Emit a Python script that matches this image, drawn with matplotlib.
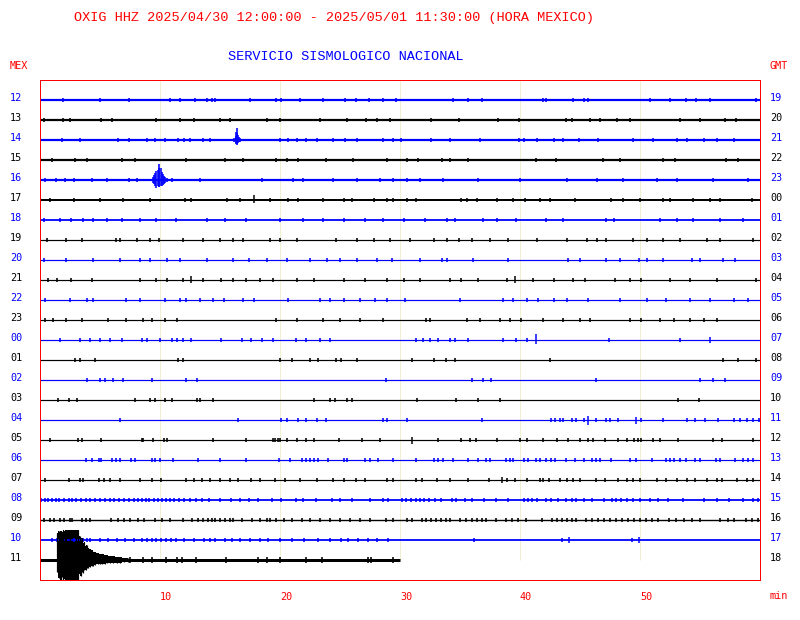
import matplotlib.pyplot as plt
import numpy as np

# hour labels of each helicorder line (local Mexico time on the left, GMT on the right)
mex_hours = ['12', '13', '14', '15', '16', '17', '18', '19', '20', '21', '22', '23',
             '00', '01', '02', '03', '04', '05', '06', '07', '08', '09', '10', '11']
gmt_hours = ['19', '20', '21', '22', '23', '00', '01', '02', '03', '04', '05', '06',
             '07', '08', '09', '10', '11', '12', '13', '14', '15', '16', '17', '18']
minute_ticks = [10, 20, 30, 40, 50]
# minutes recorded on each line (last hour is still running)
trace_end = [60] * 23 + [30]
# background noise level of each line, in pixels
noise_px = [2.2, 2.2, 2.2, 2.2, 2.2, 2.0, 1.8, 1.2, 1.2, 1.2, 1.2, 1.2,
            1.2, 1.2, 1.2, 1.2, 1.2, 1.2, 1.2, 1.2, 1.8, 1.4, 1.8, 3.0]

# small wiggles on every line (minute of each)
t12 = [1.9, 5.0, 7.4, 10.8, 11.7, 12.9, 13.9, 14.3, 14.6, 17.5, 19.7, 20.1, 21.7, 23.6, 25.4, 26.3, 27.4,
       28.6, 29.7, 34.4, 35.7, 36.8, 41.9, 42.2, 44.4, 45.3, 45.7, 50.8, 52.5, 53.8, 54.7, 55.8, 59.7]
t13 = [0.3, 1.9, 2.5, 5.1, 6.0, 9.7, 11.7, 12.8, 15.0, 15.8, 18.9, 20.0, 23.3, 25.6, 27.2, 28.1, 29.2,
       32.6, 34.9, 38.2, 39.9, 43.8, 44.3, 45.8, 46.7, 48.1, 49.2, 53.3, 55.0, 57.1, 58.0]
t14 = [1.8, 3.3, 6.5, 7.4, 8.9, 9.6, 10.4, 11.5, 12.0, 12.5, 13.6, 14.2, 20.0, 20.7, 21.4, 22.2, 23.1,
       24.4, 25.4, 26.4, 28.6, 29.4, 30.1, 32.6, 34.2, 36.7, 39.9, 40.3, 41.4, 42.8, 43.6, 44.9, 46.5,
       49.4, 51.1, 53.1, 53.9, 55.3, 56.4, 57.8]
t15 = [1.0, 2.9, 3.9, 6.8, 7.9, 12.2, 15.4, 16.9, 19.7, 20.6, 21.5, 23.8, 26.1, 28.9, 30.6, 31.5, 33.5,
       34.2, 35.7, 41.3, 43.0, 46.9, 48.3, 51.9, 52.9, 57.2, 58.2]
t16 = [0.4, 1.3, 2.1, 2.8, 4.3, 5.6, 7.4, 8.1, 11.0, 13.3, 18.5, 21.1, 21.9, 24.4, 26.4, 28.3, 29.4,
       30.6, 31.7, 33.6, 36.5, 40.0, 43.9, 46.4, 48.6, 51.4, 53.1, 56.1, 59.0]
t17 = [0.8, 2.8, 5.0, 6.9, 9.2, 12.1, 12.6, 15.6, 16.7, 19.2, 20.7, 21.5, 23.6, 25.3, 26.0, 27.8, 28.9,
       29.4, 30.6, 31.3, 35.1, 35.6, 36.4, 38.1, 39.4, 40.4, 41.7, 42.5, 44.6, 47.6, 48.6, 50.0, 51.9,
       52.5, 54.4, 55.8, 56.7, 59.3]
t18 = [0.3, 1.7, 2.6, 3.6, 4.4, 5.6, 6.8, 8.3, 9.7, 11.3, 13.9, 15.4, 17.2, 20.0, 21.9, 23.6, 25.3,
       27.1, 28.6, 30.3, 32.1, 33.9, 34.6, 36.9, 38.1, 39.7, 42.2, 43.6, 47.2, 47.8, 51.7, 53.1, 54.4,
       56.7, 58.6]
t19 = [0.6, 2.2, 3.5, 6.3, 6.7, 8.1, 9.2, 9.9, 11.9, 13.6, 15.0, 16.1, 16.9, 19.2, 20.0, 21.4, 24.7,
       26.4, 27.8, 29.2, 30.8, 32.8, 33.9, 34.9, 36.0, 37.5, 39.0, 41.4, 43.9, 45.6, 46.4, 47.2, 49.4,
       50.6, 51.9, 53.3, 55.6, 56.7, 59.4]
t20 = [0.3, 2.2, 4.4, 6.7, 8.3, 9.2, 10.6, 11.7, 13.9, 16.1, 17.4, 18.9, 20.6, 22.5, 23.9, 25.0, 26.4,
       28.1, 29.3, 31.7, 33.5, 33.9, 36.1, 39.0, 44.0, 45.0, 47.2, 48.3, 49.9, 50.6, 51.9, 54.3, 55.0,
       56.9, 57.9]
t21 = [0.7, 1.4, 2.6, 4.3, 8.3, 9.7, 10.6, 11.9, 13.6, 15.1, 16.1, 17.2, 18.3, 19.4, 21.4, 22.8, 25.3,
       27.1, 28.9, 30.3, 31.7, 34.2, 35.1, 36.5, 38.9, 41.1, 42.8, 44.4, 45.4, 47.9, 49.2, 50.1, 52.5,
       54.2, 56.4, 59.7]
t22 = [0.4, 2.5, 3.9, 4.4, 7.2, 8.3, 10.4, 11.7, 12.2, 13.3, 14.4, 15.3, 16.9, 17.8, 20.7, 23.3, 24.2,
       25.3, 26.7, 27.9, 28.9, 30.4, 35.0, 38.6, 39.4, 40.6, 41.5, 42.8, 43.9, 45.7, 48.3, 50.6, 52.2,
       54.2, 55.8, 57.8, 59.0]
t23 = [0.4, 1.1, 2.2, 3.5, 5.7, 7.2, 8.6, 9.3, 10.4, 11.4, 19.7, 21.4, 23.6, 25.0, 26.7, 28.6, 32.2,
       32.5, 35.6, 36.7, 38.3, 39.2, 40.1, 41.9, 43.6, 45.0, 45.8, 49.2, 50.1, 51.7, 52.8, 54.2, 55.3,
       56.4]
t00 = [1.7, 3.3, 4.2, 5.0, 5.8, 6.8, 8.5, 8.9, 10.0, 11.0, 11.4, 11.9, 12.6, 15.1, 16.8, 17.6, 18.5,
       19.4, 21.3, 22.2, 23.3, 24.2, 31.3, 31.9, 32.5, 33.2, 34.2, 34.6, 35.7, 38.6, 39.7, 40.6, 47.4,
       53.3]
t01 = [2.9, 3.3, 4.6, 11.5, 11.9, 20.0, 21.0, 22.5, 23.2, 24.7, 25.1, 26.4, 31.0, 32.8, 33.8, 34.6,
       42.5, 56.9, 58.2, 59.7]
t02 = [3.9, 5.0, 5.4, 6.1, 6.9, 9.3, 12.2, 13.1, 28.8, 36.0, 36.9, 37.6, 46.3, 55.0, 56.1, 57.1]
t03 = [1.5, 2.4, 3.1, 7.9, 9.2, 9.6, 10.4, 11.0, 13.1, 13.3, 14.4, 22.8, 24.2, 24.6, 25.6, 26.0, 31.4,
       34.7, 36.5, 38.3, 53.2, 54.9]
t04 = [6.7, 16.5, 20.1, 20.6, 21.5, 22.2, 23.1, 23.8, 28.6, 28.9, 30.6, 36.8, 42.6, 42.9, 43.3, 43.6,
       44.3, 44.7, 45.3, 46.3, 47.2, 47.5, 48.2, 50.1, 51.9, 53.9, 54.6, 55.4, 56.5, 57.8, 58.3, 58.9,
       59.4, 59.9]
t05 = [0.8, 3.2, 3.5, 5.1, 8.5, 8.6, 9.4, 10.3, 10.6, 14.4, 17.2, 19.4, 19.6, 19.8, 20.0, 20.6, 21.4,
       22.2, 22.8, 24.9, 26.8, 28.3, 33.2, 35.1, 35.8, 36.3, 38.1, 40.0, 40.6, 41.9, 43.1, 44.0, 45.0,
       45.7, 46.1, 47.1, 48.2, 48.9, 49.5, 49.8, 50.1, 51.1, 51.7, 53.2, 56.1, 56.8, 59.4]
t06 = [3.8, 4.3, 4.9, 5.1, 6.0, 6.3, 6.7, 7.6, 7.9, 9.3, 9.6, 10.0, 11.1, 13.2, 15.0, 17.2, 19.9, 20.8,
       21.8, 22.2, 22.5, 22.8, 23.2, 24.0, 25.3, 25.6, 27.1, 27.5, 28.2, 29.4, 31.3, 32.8, 33.2, 33.6,
       34.4, 35.7, 36.5, 37.2, 37.5, 38.8, 39.2, 39.4, 40.3, 40.7, 41.3, 41.7, 42.2, 42.6, 42.9, 43.8,
       44.6, 45.3, 46.0, 46.3, 46.7, 47.6, 49.2, 49.7, 51.0, 52.2, 52.5, 52.8, 53.3, 53.8, 54.6, 55.0,
       56.3, 56.7, 57.9, 58.6, 59.0, 59.4]
t07 = [0.4, 2.4, 3.3, 3.6, 4.9, 5.3, 5.8, 6.7, 8.3, 9.3, 10.1, 12.2, 12.8, 13.5, 14.2, 15.0, 15.8,
       16.5, 17.6, 18.3, 19.6, 20.4, 21.7, 23.1, 24.4, 25.3, 26.3, 27.1, 28.9, 29.4, 31.3, 31.8, 33.1,
       34.2, 35.7, 37.4, 38.9, 39.6, 40.6, 41.7, 41.9, 42.4, 43.3, 43.9, 44.4, 45.0, 46.3, 47.1, 48.2,
       48.9, 49.4, 50.0, 51.4, 52.2, 53.1, 53.9, 54.6, 55.6, 56.4, 56.8, 58.1, 58.9, 59.4]
t08 = [0.1, 0.4, 0.7, 1.0, 1.3, 1.6, 2.0, 2.4, 2.7, 3.0, 3.4, 3.8, 4.2, 4.6, 5.0, 5.4, 5.8, 6.2, 6.6,
       7.0, 7.4, 7.8, 8.2, 8.5, 8.8, 9.1, 9.5, 9.8, 10.2, 10.5, 10.8, 11.2, 11.6, 12.0, 12.5, 13.0, 13.5,
       14.1, 15.0, 15.9, 16.7, 17.4, 18.2, 19.3, 20.1, 21.3, 21.9, 23.0, 24.3, 25.0, 26.0, 27.5, 28.6,
       29.0, 30.2, 30.5, 30.9, 31.3, 31.7, 32.0, 32.4, 32.9, 33.4, 34.3, 34.7, 35.4, 36.0, 37.0, 38.0,
       39.0, 40.3, 40.7, 41.0, 41.4, 42.2, 42.6, 43.2, 43.8, 44.3, 44.7, 45.3, 46.0, 47.0, 47.7, 48.0,
       48.4, 48.9, 49.4, 50.0, 50.8, 51.5, 52.3, 53.6, 55.3, 56.4, 57.4, 58.6, 59.4, 59.8]
t09 = [0.3, 0.8, 1.2, 1.7, 2.0, 2.5, 2.7, 3.5, 3.8, 4.2, 5.9, 6.5, 7.0, 7.5, 8.2, 8.7, 9.6, 10.2, 10.8,
       11.9, 12.7, 13.2, 13.6, 14.0, 14.3, 14.6, 15.0, 15.4, 15.8, 16.1, 16.8, 17.7, 18.3, 18.9, 19.2,
       19.7, 20.3, 21.0, 21.8, 22.5, 23.3, 24.2, 25.0, 25.8, 26.7, 27.5, 28.8, 29.4, 30.6, 31.0, 31.8,
       32.2, 32.6, 33.0, 33.4, 33.8, 34.2, 35.0, 35.5, 36.0, 36.4, 36.8, 37.2, 38.0, 38.8, 39.3, 39.8,
       40.5, 41.8, 42.7, 43.1, 43.5, 43.9, 44.3, 44.7, 45.5, 46.0, 46.5, 47.0, 47.5, 48.0, 48.5, 49.0,
       49.5, 50.0, 50.5, 51.0, 51.5, 52.4, 53.0, 53.7, 54.3, 55.0, 56.7, 57.3, 57.8, 58.8, 59.3, 59.8]
t10 = [1.0, 1.4, 2.2, 2.8, 3.6, 3.9, 4.2, 5.0, 5.7, 6.4, 7.1, 7.8, 8.5, 8.9, 9.3, 9.7, 10.1, 10.5,
       10.9, 11.3, 12.0, 12.8, 13.7, 14.2, 14.6, 15.4, 16.0, 16.7, 17.5, 18.3, 19.0, 20.0, 21.0, 22.0,
       23.2, 24.2, 25.1, 25.7, 26.5, 27.3, 28.1, 29.0, 36.2, 43.5, 49.3]
t11 = [7.5, 8.6, 9.3, 10.5, 11.4, 11.8, 13.0, 15.5, 18.2, 18.9, 20.0, 22.2, 23.5, 27.3, 27.6, 29.4]
row_ticks = [t12, t13, t14, t15, t16, t17, t18, t19, t20, t21, t22, t23,
             t00, t01, t02, t03, t04, t05, t06, t07, t08, t09, t10, t11]

# isolated larger arrivals: line index, minute, up / down amplitude (px)
spike_row = [5, 9, 9, 12, 12, 16, 16, 17, 19, 22, 22]
spike_min = [17.8, 12.6, 39.6, 41.3, 55.8, 45.7, 49.7, 31.0, 38.5, 44.1, 49.9]
spike_up = [5, 4, 4, 6, 3, 4.5, 3.5, 3.5, 3, 3, 3]
spike_dn = [3, 3, 3, 4, 3, 4.5, 3.5, 3.5, 3, 3, 3]

# earthquakes: envelope of the trace (px above / below the line)
ev14_min = [16.2, 16.3, 16.35, 16.4, 16.45, 16.5, 16.6, 16.7]
ev14_up = [2, 4, 8, 12, 7, 5, 3, 2]
ev14_dn = [2, 3, 4, 5, 4, 3, 2, 2]
ev16_min = [9.4, 9.5, 9.6, 9.7, 9.8, 9.9, 9.95, 10.05, 10.15, 10.25, 10.35, 10.45, 10.6]
ev16_up = [3, 5, 7, 9, 10, 12, 16, 12, 8, 6, 4, 3, 2]
ev16_dn = [3, 4, 6, 8, 6, 7, 7, 6, 6, 5, 4, 3, 2]
ev11_min = [1.45, 1.55, 1.65, 1.75, 1.85, 1.95, 2.05, 2.15, 2.5, 3.0, 3.2, 3.3, 3.4, 3.5, 3.6, 3.7,
            3.8, 3.9, 4.0, 4.15, 4.3, 4.45, 4.6, 4.8, 5.0, 5.2, 5.4, 5.6, 5.8, 6.1, 6.4, 6.7, 7.0, 7.3]
ev11_up = [27, 29, 25, 29, 28, 30, 29, 30, 30, 30, 30, 24, 20, 22, 17, 18, 14, 15, 12, 11, 10, 8, 8,
           7, 6, 6, 5, 5, 4, 4, 3, 3, 2.5, 2]
ev11_dn = [12, 18, 15, 20, 17, 20, 19, 20, 20, 20, 20, 14, 16, 12, 13, 10, 10, 8, 8, 7, 6, 6, 5, 4,
           4, 3.5, 3.5, 3, 3, 3, 2.5, 2.5, 2, 2]

RED = '#ff0000'
BLUE = '#0000ff'
PX = 1 / 20.0          # one pixel in line units (lines are 20 px apart)
PT = 0.72              # one pixel in points at dpi 100

fig = plt.figure(figsize=(8, 6.2), dpi=100)
ax = fig.add_axes([40 / 800, 40 / 620, 720 / 800, 500 / 620])
ax.set_xlim(0, 60)
ax.set_ylim(24, -1)

ax.vlines(minute_ticks, -1, 23, color='#f0efcf', lw=1 * PT, zorder=0)

colors = [BLUE if i % 2 == 0 else 'black' for i in range(24)]
for i in range(24):
    c = colors[i]
    ax.hlines(i, 0, trace_end[i], color=c, lw=noise_px[i] * PT)
    a = (noise_px[i] / 2 + 1.1) * PX
    ax.vlines(row_ticks[i], i - a, i + a, color=c, lw=1.6 * PT)

for r, m, u, d in zip(spike_row, spike_min, spike_up, spike_dn):
    ax.vlines(m, r - u * PX, r + d * PX, color=colors[r], lw=1.5 * PT)

# quake envelopes drawn as dense vertical strokes
for r, m, u, d in [(2, ev14_min, ev14_up, ev14_dn),
                   (4, ev16_min, ev16_up, ev16_dn)]:
    ax.vlines(m, r - np.array(u) * PX, r + np.array(d) * PX, color=colors[r], lw=1.6 * PT)
ax.fill_between(np.array(ev11_min), 23 - np.array(ev11_up) * PX, 23 + np.array(ev11_dn) * PX,
                step='mid', color=colors[23], lw=0)
ax.vlines(ev11_min, 23 - np.array(ev11_up) * PX, 23 + np.array(ev11_dn) * PX,
          color=colors[23], lw=1.2 * PT)

for s in ax.spines.values():
    s.set_color(RED)
    s.set_linewidth(1 * PT)

ax.set_yticks([])
ax.set_xticks(minute_ticks, [str(v) for v in minute_ticks])
ax.tick_params(axis='x', length=0, pad=9, labelcolor=RED, labelsize=7.3)
for lab in ax.get_xticklabels():
    lab.set_family('DejaVu Sans Mono')
    lab.set_horizontalalignment('left')

lab_tr = ax.get_yaxis_transform()
for i in range(24):
    ax.text(-30 / 720, i - 0.12, mex_hours[i], transform=lab_tr, color=colors[i],
            family='DejaVu Sans Mono', fontsize=7.3, ha='left', va='center')
    ax.text(730 / 720, i - 0.12, gmt_hours[i], transform=lab_tr, color=colors[i],
            family='DejaVu Sans Mono', fontsize=7.3, ha='left', va='center')

fig.text(334 / 800, 1 - 18 / 620,
         'OXIG HHZ 2025/04/30 12:00:00 - 2025/05/01 11:30:00 (HORA MEXICO)',
         color=RED, family='Liberation Mono', fontsize=9.7, ha='center', va='center')
fig.text(346 / 800, 1 - 57 / 620, 'SERVICIO SISMOLOGICO NACIONAL',
         color=BLUE, family='Liberation Mono', fontsize=9.7, ha='center', va='center')
fig.text(10 / 800, 1 - 66 / 620, 'MEX', color=RED, family='DejaVu Sans Mono',
         fontsize=7.3, ha='left', va='center')
fig.text(769 / 800, 1 - 66 / 620, 'GMT', color=RED, family='DejaVu Sans Mono',
         fontsize=7.3, ha='left', va='center')
fig.text(769 / 800, 1 - 596 / 620, 'min', color=RED, family='DejaVu Sans Mono',
         fontsize=7.3, ha='left', va='center')

plt.savefig('out.png', dpi=100)
